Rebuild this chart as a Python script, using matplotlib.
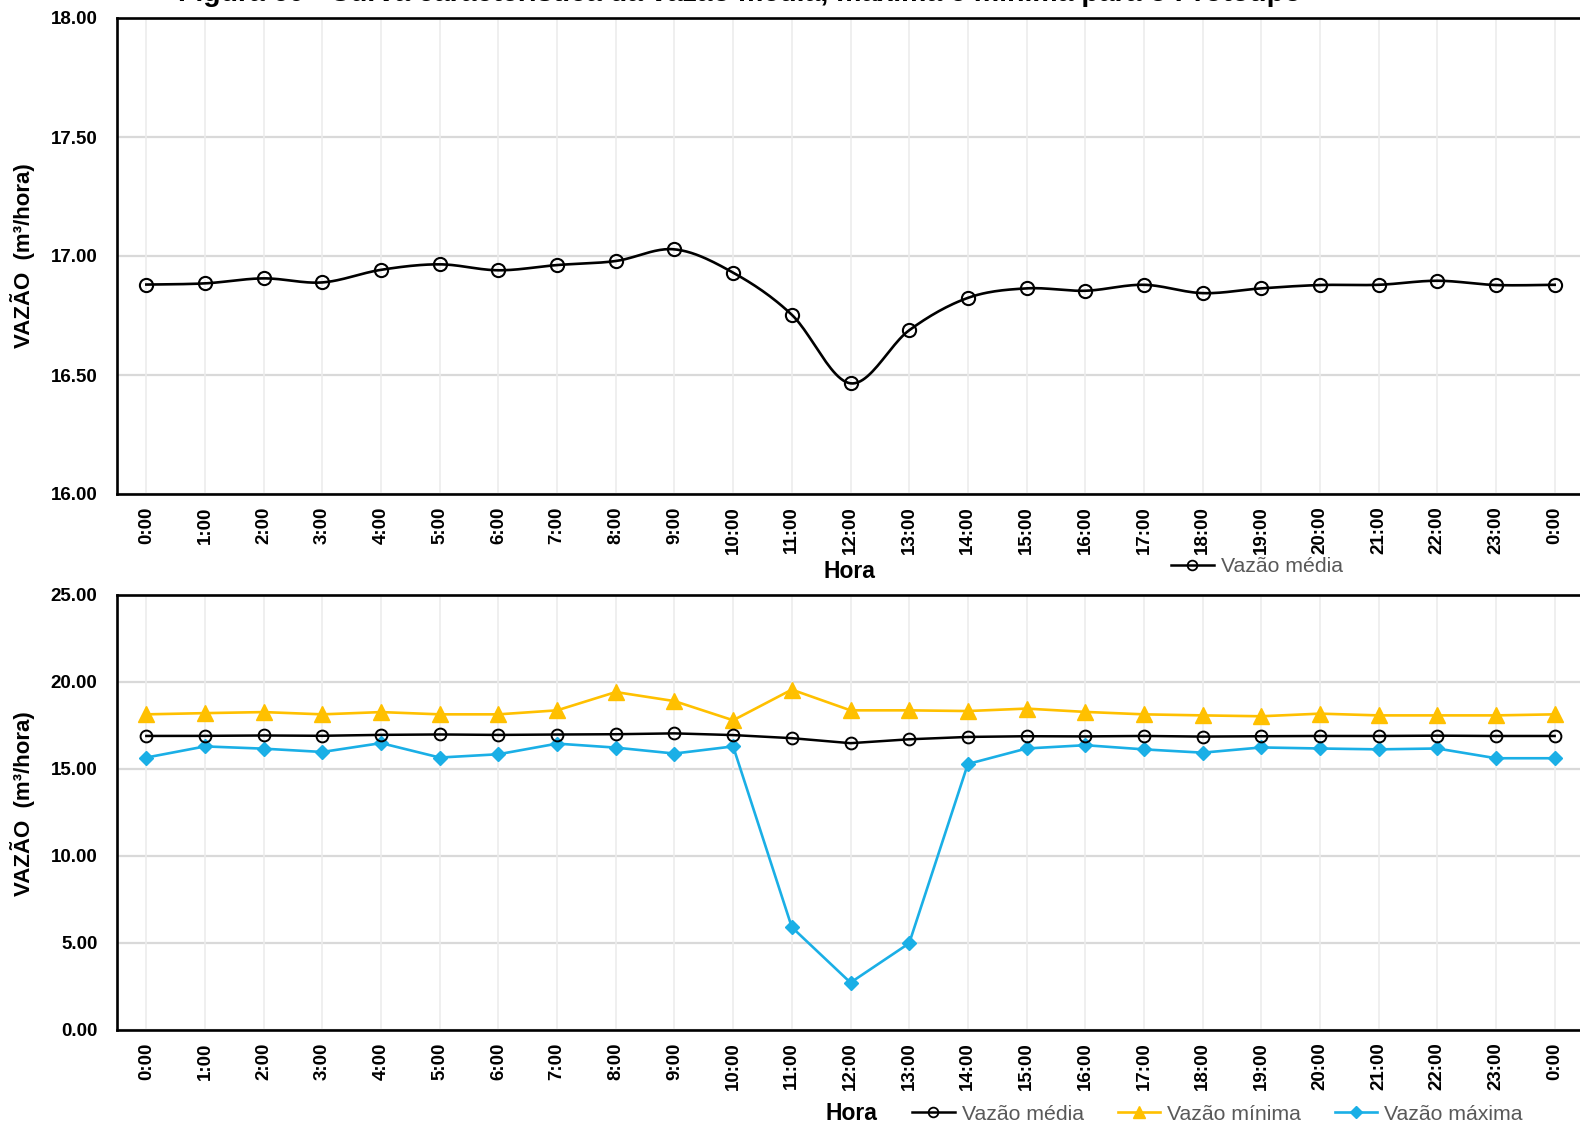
import numpy as np
import matplotlib
matplotlib.use("Agg")
import matplotlib.pyplot as plt
from matplotlib.lines import Line2D

plt.rcParams['font.family'] = ['Liberation Sans', 'DejaVu Sans']

# ---- data -------------------------------------------------------------
horas = ["0:00", "1:00", "2:00", "3:00", "4:00", "5:00", "6:00", "7:00",
         "8:00", "9:00", "10:00", "11:00", "12:00", "13:00", "14:00",
         "15:00", "16:00", "17:00", "18:00", "19:00", "20:00", "21:00",
         "22:00", "23:00", "0:00"]

vazao_media = [16.88, 16.885, 16.906, 16.889, 16.942, 16.965, 16.94, 16.962,
               16.979, 17.028, 16.93, 16.753, 16.465, 16.688, 16.824,
               16.864, 16.854, 16.879, 16.844, 16.864, 16.878, 16.879,
               16.896, 16.878, 16.879]

vazao_minima = [18.12, 18.19, 18.25, 18.12, 18.25, 18.12, 18.12, 18.35,
                19.40, 18.88, 17.78, 19.54, 18.35, 18.35, 18.31,
                18.45, 18.26, 18.12, 18.06, 18.01, 18.16, 18.06,
                18.06, 18.06, 18.12]

vazao_maxima = [15.64, 16.28, 16.15, 15.96, 16.47, 15.64, 15.83, 16.44,
                16.21, 15.87, 16.28, 5.90, 2.72, 4.98, 15.27,
                16.16, 16.35, 16.11, 15.92, 16.22, 16.16, 16.11,
                16.16, 15.60, 15.60]

ticks_sup = [16.00, 16.50, 17.00, 17.50, 18.00]
ticks_inf = [0.00, 5.00, 10.00, 15.00, 20.00, 25.00]

titulo = "Figura 60 - Curva característica da vazão média, máxima e mínima para o Protótipo"

# ---- styling ----------------------------------------------------------
COR_MEDIA = "black"
COR_MIN = "#FFC000"
COR_MAX = "#1AAFE6"
COR_LEG = "#595959"
GRID_H = "#D9D9D9"
GRID_V = "#ECECEC"


def suavizar(y, n=24):
    """Catmull-Rom curve through the points (Excel-style smoothed line)."""
    y = np.asarray(y, dtype=float)
    x = np.arange(len(y), dtype=float)
    px = np.concatenate([[x[0]], x, [x[-1]]])
    py = np.concatenate([[y[0]], y, [y[-1]]])
    xs, ys = [], []
    t = np.linspace(0, 1, n, endpoint=False)
    for i in range(1, len(px) - 2):
        p0x, p1x, p2x, p3x = px[i - 1:i + 3]
        p0y, p1y, p2y, p3y = py[i - 1:i + 3]
        c1x, c1y = p1x + (p2x - p0x) / 6, p1y + (p2y - p0y) / 6
        c2x, c2y = p2x - (p3x - p1x) / 6, p2y - (p3y - p1y) / 6
        bx = ((1 - t) ** 3) * p1x + 3 * ((1 - t) ** 2) * t * c1x + 3 * (1 - t) * t ** 2 * c2x + t ** 3 * p2x
        by = ((1 - t) ** 3) * p1y + 3 * ((1 - t) ** 2) * t * c1y + 3 * (1 - t) * t ** 2 * c2y + t ** 3 * p2y
        xs.append(bx)
        ys.append(by)
    xs.append([x[-1]])
    ys.append([y[-1]])
    return np.concatenate(xs), np.concatenate(ys)


def estilo_eixo(ax, yticks):
    x = np.arange(len(horas))
    ax.set_xlim(-0.5, len(horas) - 0.5)
    ax.set_xticks(x)
    ax.set_xticklabels(horas, rotation=90, fontsize=13.5, fontweight="bold")
    ax.set_yticks(yticks)
    ax.set_yticklabels([f"{v:.2f}" for v in yticks], fontsize=13.5, fontweight="bold")
    ax.set_ylim(yticks[0], yticks[-1])
    ax.tick_params(axis="both", length=0)
    ax.tick_params(axis="y", pad=14)
    ax.tick_params(axis="x", pad=9)
    for v in yticks:
        ax.axhline(v, color=GRID_H, lw=1.6, zorder=0)
    for xi in x:
        ax.axvline(xi, color=GRID_V, lw=1.2, zorder=0)
    for s in ax.spines.values():
        s.set_linewidth(1.9)
        s.set_color("black")
    ax.set_ylabel("VAZÃO  (m³/hora)", fontsize=16, fontweight="bold")


W, H = 1580, 1131
fig = plt.figure(figsize=(W / 100, H / 100), dpi=100)

# upper panel: mean flow
ax1 = fig.add_axes([117 / W, 1 - 494 / H, (1584 - 117) / W, (494 - 18) / H])
estilo_eixo(ax1, ticks_sup)
ax1.yaxis.set_label_coords(-0.056, 0.5)
xs, ys = suavizar(vazao_media)
ax1.plot(xs, ys, color=COR_MEDIA, lw=1.9, zorder=3)
ax1.plot(np.arange(len(horas)), vazao_media, ls="none", marker="o", ms=9.5,
         mfc="none", mec=COR_MEDIA, mew=1.5, zorder=4)

# lower panel: mean, minimum and maximum flow
ax2 = fig.add_axes([117 / W, 1 - 1030 / H, (1584 - 117) / W, (1030 - 594.5) / H])
estilo_eixo(ax2, ticks_inf)
ax2.yaxis.set_label_coords(-0.056, 0.52)
xi = np.arange(len(horas))
ax2.plot(xi, vazao_media, color=COR_MEDIA, lw=1.8, marker="o", ms=8.5,
         mfc="none", mec=COR_MEDIA, mew=1.4, zorder=4)
ax2.plot(xi, vazao_minima, color=COR_MIN, lw=1.9, marker="^", ms=11,
         mfc=COR_MIN, mec=COR_MIN, zorder=3)
ax2.plot(xi, vazao_maxima, color=COR_MAX, lw=1.9, marker="D", ms=7.5,
         mfc=COR_MAX, mec=COR_MAX, zorder=3)

# axis titles and legends
fig.text(849 / W, 1 - 571 / H, "Hora", ha="center", va="center",
         fontsize=16.5, fontweight="bold")
fig.text(851 / W, 1 - 1114 / H, "Hora", ha="center", va="center",
         fontsize=16.5, fontweight="bold")

h_media = Line2D([], [], color=COR_MEDIA, lw=1.8, marker="o", ms=7,
                 mfc="none", mec=COR_MEDIA, mew=1.3)
h_min = Line2D([], [], color=COR_MIN, lw=1.9, marker="^", ms=9,
               mfc=COR_MIN, mec=COR_MIN)
h_max = Line2D([], [], color=COR_MAX, lw=1.9, marker="D", ms=6.5,
               mfc=COR_MAX, mec=COR_MAX)

leg1 = fig.legend([h_media], ["Vazão média"], loc="center left",
                  bbox_to_anchor=(1171 / W, 1 - 567 / H), frameon=False,
                  fontsize=15.3, handlelength=2.0, handletextpad=0.33,
                  borderaxespad=0, borderpad=0)
leg2 = fig.legend([h_media, h_min, h_max],
                  ["Vazão média", "Vazão mínima", "Vazão máxima"],
                  loc="center left", bbox_to_anchor=(912 / W, 1 - 1114 / H),
                  ncol=3, frameon=False, fontsize=15.3, handlelength=2.0,
                  handletextpad=0.33, columnspacing=1.6, borderaxespad=0,
                  borderpad=0)
for lg in (leg1, leg2):
    for t in lg.get_texts():
        t.set_color(COR_LEG)

# caption running off the very top edge of the page
fig.text(740 / W, 1 - 1 / H, titulo, ha="center", va="baseline",
         fontsize=20.5, fontweight="bold")

fig.savefig("out.png", dpi=100)
